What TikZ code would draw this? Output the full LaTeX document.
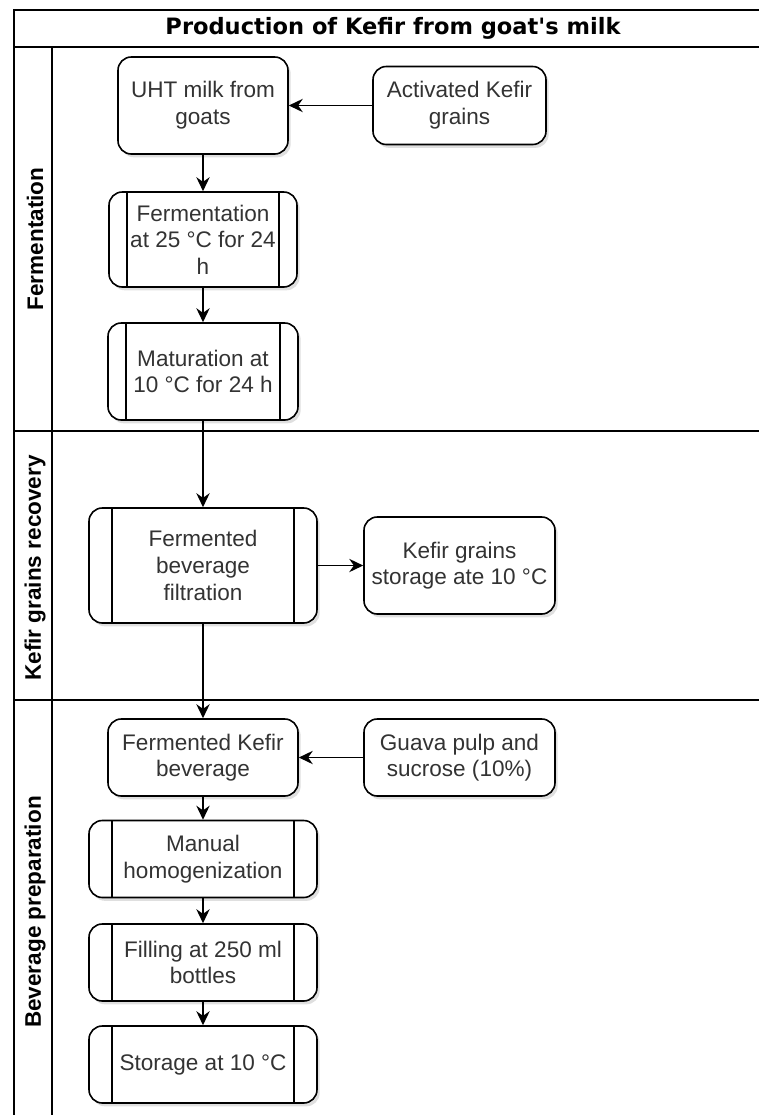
\documentclass[tikz,border=0pt]{standalone}
\usepackage{fontspec}
\setmainfont{Liberation Sans}
\newfontfamily\titlefont{DejaVu Sans}
\usetikzlibrary{arrows.meta}
\usetikzlibrary{shadows}
\definecolor{txtgray}{RGB}{51,51,51}
\tikzset{
  stepnode/.style={draw, line width=1.2pt, rounded corners=10pt, fill=white, inner sep=0pt, align=center, text=txtgray,
    font=\fontsize{16.9pt}{20pt}\selectfont, drop shadow={shadow xshift=2pt, shadow yshift=-2.5pt, opacity=0.25}},
  procnode/.style={stepnode, path picture={\draw[line width=1.2pt]
    ([xshift=#1]path picture bounding box.north west) -- ([xshift=#1]path picture bounding box.south west)
    ([xshift=-#1]path picture bounding box.north east) -- ([xshift=-#1]path picture bounding box.south east);}},
  flow/.style={line width=1.2pt, -{Stealth[length=10.5pt,width=10pt,inset=3.5pt]}},
  lanetitle/.style={rotate=90, font=\fontsize{16.9pt}{20pt}\selectfont\bfseries},
  frameline/.style={line width=1.2pt}
}

\begin{document}
\begin{tikzpicture}[x=0.75pt,y=0.75pt,yscale=-1,xscale=1]
\path[use as bounding box] (0,0) rectangle (759,1115);
\clip (0,0) rectangle (759,1115);

%Pool frame
\draw [frameline] (14,1130) -- (14,10) -- (790,10) ;
\draw [frameline] (14,47) -- (790,47) ;
\draw [frameline] (52,47) -- (52,1130) ;
%Lane dividers
\draw [frameline] (14,431) -- (790,431) ;
\draw [frameline] (14,700) -- (790,700) ;

% Text Node
\node (pooltitle) at (393,28) {\titlefont\bfseries\fontsize{16.9pt}{20pt}\selectfont Production of Kefir from goat's milk};
% Text Node
\node [lanetitle] (lanefer) at (35,239) {Fermentation};
% Text Node
\node [lanetitle] (lanerec) at (35,568) {Kefir grains recovery};
% Text Node
\node [lanetitle] (lanebev) at (35,912) {Beverage preparation};

%Shape: Rounded Rect
\node [stepnode, minimum width=127.5pt, minimum height=72.75pt] (uht) at (203,105.5) {UHT milk from\\goats};
%Shape: Rounded Rect
\node [stepnode, minimum width=129.75pt, minimum height=58.5pt] (grains) at (459.5,105.5) {Activated Kefir\\grains};
%Shape: Process
\node [procnode=13.5pt, minimum width=141pt, minimum height=71.25pt] (ferment) at (203,239.5) {Fermentation\\at 25 °C for 24\\h};
%Shape: Process
\node [procnode=13.5pt, minimum width=142.5pt, minimum height=72.75pt] (mature) at (203,371.5) {Maturation at\\10 °C for 24 h};
%Shape: Process
\node [procnode=17.25pt, minimum width=171pt, minimum height=86.25pt] (filter) at (203,565.5) {Fermented\\beverage\\filtration};
%Shape: Rounded Rect
\node [stepnode, minimum width=143.25pt, minimum height=72.75pt] (gstore) at (459.5,565.5) {Kefir grains\\storage ate 10 °C};
%Shape: Rounded Rect
\node [stepnode, minimum width=142.5pt, minimum height=57.75pt] (kefbev) at (203,757.5) {Fermented Kefir\\beverage};
%Shape: Rounded Rect
\node [stepnode, minimum width=143.25pt, minimum height=57.75pt] (guava) at (459.5,757.5) {Guava pulp and\\sucrose (10\%)};
%Shape: Process
\node [procnode=17.25pt, minimum width=171pt, minimum height=57.75pt] (homog) at (203,859) {Manual\\homogenization};
%Shape: Process
\node [procnode=17.25pt, minimum width=171pt, minimum height=57.75pt] (filling) at (203,962.5) {Filling at 250 ml\\bottles};
%Shape: Process
\node [procnode=17.25pt, minimum width=171pt, minimum height=57.75pt] (bstore) at (203,1064.5) {Storage at 10 °C};

%Straight Lines
\draw [flow] (grains) -- (uht) ;
\draw [flow] (uht) -- (ferment) ;
\draw [flow] (ferment) -- (mature) ;
\draw [flow] (mature) -- (filter) ;
\draw [flow] (filter) -- (gstore) ;
\draw [flow] (filter) -- (kefbev) ;
\draw [flow] (guava) -- (kefbev) ;
\draw [flow] (kefbev) -- (homog) ;
\draw [flow] (homog) -- (filling) ;
\draw [flow] (filling) -- (bstore) ;

\end{tikzpicture}
\end{document}
